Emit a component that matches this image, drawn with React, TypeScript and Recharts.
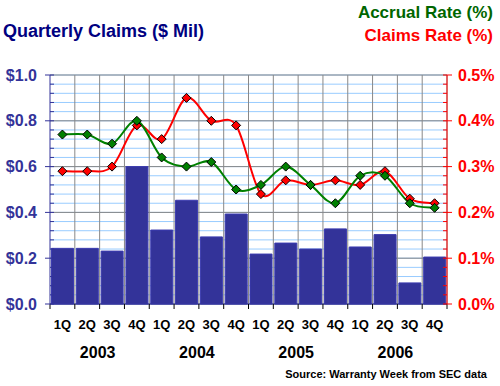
import React from 'react'
import {
  ComposedChart, Bar, Line, XAxis, YAxis, CartesianGrid,
} from 'recharts'

const quarters = ['1Q', '2Q', '3Q', '4Q', '1Q', '2Q', '3Q', '4Q', '1Q', '2Q', '3Q', '4Q', '1Q', '2Q', '3Q', '4Q']
const years = ['2003', '2004', '2005', '2006']
// quarterly claims, $ millions
const claims = [0.243, 0.243, 0.231, 0.6, 0.323, 0.453, 0.293, 0.393, 0.218, 0.266, 0.24, 0.328, 0.249, 0.303, 0.092, 0.205]
// rates in percent
const claimsRate = [0.29, 0.29, 0.3, 0.39, 0.36, 0.45, 0.4, 0.39, 0.24, 0.27, 0.26, 0.27, 0.26, 0.29, 0.23, 0.22]
const accrualRate = [0.37, 0.37, 0.35, 0.4, 0.32, 0.3, 0.31, 0.25, 0.26, 0.3, 0.26, 0.22, 0.28, 0.28, 0.22, 0.21]

const leftMajor = [0, 0.2, 0.4, 0.6, 0.8, 1.0]
const rightMajor = [0, 0.1, 0.2, 0.3, 0.4, 0.5]
const leftTicks = Array.from({ length: 26 }, (_, i) => +(i * 0.04).toFixed(2))
const rightTicks = Array.from({ length: 26 }, (_, i) => +(i * 0.02).toFixed(2))

const data = quarters.map((q, i) => ({
  key: `${q}-${i}`,
  q,
  claims: claims[i],
  claimsRate: claimsRate[i],
  accrualRate: accrualRate[i],
}))

const FONT = '"Liberation Sans", Arial, sans-serif'
const NAVY = '#333399'

// Excel-like smoothing (uniform Catmull-Rom through the points)
const smoothCurve: any = (ctx: any) => {
  let pts: number[][] = []
  return {
    areaStart() {},
    areaEnd() {},
    lineStart() { pts = [] },
    point(x: number, y: number) { pts.push([+x, +y]) },
    lineEnd() {
      if (!pts.length) return
      ctx.moveTo(pts[0][0], pts[0][1])
      for (let i = 0; i < pts.length - 1; i++) {
        const p0 = pts[i - 1] || pts[i]
        const p1 = pts[i]
        const p2 = pts[i + 1]
        const p3 = pts[i + 2] || p2
        ctx.bezierCurveTo(
          p1[0] + (p2[0] - p0[0]) / 6, p1[1] + (p2[1] - p0[1]) / 6,
          p2[0] - (p3[0] - p1[0]) / 6, p2[1] - (p3[1] - p1[1]) / 6,
          p2[0], p2[1],
        )
      }
    },
  }
}

const isMajor = (v: number, majors: number[]) => majors.some(m => Math.abs(m - v) < 1e-6)

function LeftTick({ x, y, payload }: any) {
  const major = isMajor(payload.value, leftMajor)
  return (
    <g>
      <line x1={major ? x - 5 : x} x2={x + 4} y1={y} y2={y} stroke={NAVY} strokeWidth={1} />
      {major && (
        <text x={x - 13} y={y} dy="0.35em" textAnchor="end" fill={NAVY}
          style={{ fontFamily: FONT, fontWeight: 700, fontSize: 16 }}>
          ${payload.value.toFixed(1)}
        </text>
      )}
    </g>
  )
}

function RightTick({ x, y, payload }: any) {
  const major = isMajor(payload.value, rightMajor)
  return (
    <g>
      <line x1={x - 4} x2={major ? x + 5 : x} y1={y} y2={y} stroke="#FF0000" strokeWidth={1} />
      {major && (
        <text x={x + 11} y={y} dy="0.35em" textAnchor="start" fill="#FF0000"
          style={{ fontFamily: FONT, fontWeight: 700, fontSize: 16 }}>
          {payload.value.toFixed(1)}%
        </text>
      )}
    </g>
  )
}

function XTick({ x, y, payload, index, visibleTicksCount }: any) {
  const half = payload.offset || 12.4
  const last = index === (visibleTicksCount || 16) - 1
  return (
    <g>
      <line x1={x - half} x2={x - half} y1={y} y2={y + 5} stroke="#000" />
      {last && <line x1={x + half} x2={x + half} y1={y} y2={y + 5} stroke="#000" />}
      <text x={x} y={y + 25} textAnchor="middle" fill="#000"
        style={{ fontFamily: FONT, fontWeight: 700, fontSize: 13 }}>
        {quarters[index]}
      </text>
      {index % 4 === 1 && (
        <text x={x + half - 2} y={y + 54} textAnchor="middle" fill="#000"
          style={{ fontFamily: FONT, fontWeight: 700, fontSize: 16 }}>
          {years[Math.floor(index / 4)]}
        </text>
      )}
    </g>
  )
}

function Diamond({ cx, cy, fill }: any) {
  if (cx == null || cy == null) return null
  const r = 4.5
  return (
    <polygon
      points={`${cx},${cy - r} ${cx + r},${cy} ${cx},${cy + r} ${cx - r},${cy}`}
      fill={fill} stroke="#000" strokeWidth={1}
    />
  )
}

export default function App() {
  return (
    <div style={{ position: 'absolute', left: 0, top: 0, width: 500, height: 386, background: '#fff', fontFamily: FONT }}>
      <div style={{ position: 'absolute', left: 3, top: 20, fontSize: 18, lineHeight: '22px', fontWeight: 700, color: '#000080' }}>
        Quarterly Claims ($ Mil)
      </div>
      <div style={{ position: 'absolute', right: 7, top: 2, fontSize: 17, lineHeight: '21px', fontWeight: 700, color: '#006600' }}>
        Accrual Rate (%)
      </div>
      <div style={{ position: 'absolute', right: 7, top: 25, fontSize: 17, lineHeight: '21px', fontWeight: 700, color: '#FF0000' }}>
        Claims Rate (%)
      </div>
      <div style={{ position: 'absolute', right: 13, top: 367, fontSize: 11, lineHeight: '14px', fontWeight: 700, color: '#000' }}>
        Source: Warranty Week from SEC data
      </div>
      <ComposedChart
        width={500}
        height={386}
        data={data}
        margin={{ top: 75, right: 0, bottom: 0, left: 0 }}
        barCategoryGap={1.5}
      >
        <CartesianGrid yAxisId="left" vertical={false} stroke="#99CCFF" strokeWidth={1} />
        <CartesianGrid
          yAxisId="left"
          stroke="#888888"
          strokeWidth={1}
          horizontalCoordinatesGenerator={({ offset }: any) =>
            leftMajor.map(v => offset.top + offset.height * (1 - v))}
          verticalCoordinatesGenerator={({ offset }: any) =>
            quarters.map((_, i) => offset.left + (offset.width * (i + 1)) / quarters.length)}
        />
        <XAxis
          dataKey="key"
          interval={0}
          height={82}
          tickLine={false}
          tickSize={0}
          tickMargin={0}
          axisLine={{ stroke: NAVY, strokeWidth: 1 }}
          tick={<XTick />}
        />
        <YAxis
          yAxisId="left"
          orientation="left"
          width={50}
          domain={[0, 1]}
          ticks={leftTicks}
          interval={0}
          tickLine={false}
          tickSize={0}
          tickMargin={0}
          axisLine={{ stroke: NAVY, strokeWidth: 1 }}
          tick={<LeftTick />}
        />
        <YAxis
          yAxisId="right"
          orientation="right"
          width={53}
          domain={[0, 0.5]}
          ticks={rightTicks}
          interval={0}
          tickLine={false}
          tickSize={0}
          tickMargin={0}
          axisLine={{ stroke: '#FF0000', strokeWidth: 1 }}
          tick={<RightTick />}
        />
        <Bar yAxisId="left" dataKey="claims" fill={NAVY} stroke="#3b3bb0" strokeWidth={1} isAnimationActive={false} />
        <Line
          yAxisId="right"
          dataKey="claimsRate"
          type={smoothCurve}
          stroke="#FF0000"
          strokeWidth={2}
          dot={(p: any) => <Diamond key={`c${p.index}`} cx={p.cx} cy={p.cy} fill="#FF0000" />}
          activeDot={false}
          isAnimationActive={false}
        />
        <Line
          yAxisId="right"
          dataKey="accrualRate"
          type={smoothCurve}
          stroke="#008000"
          strokeWidth={2}
          dot={(p: any) => <Diamond key={`a${p.index}`} cx={p.cx} cy={p.cy} fill="#008000" />}
          activeDot={false}
          isAnimationActive={false}
        />
      </ComposedChart>
    </div>
  )
}
